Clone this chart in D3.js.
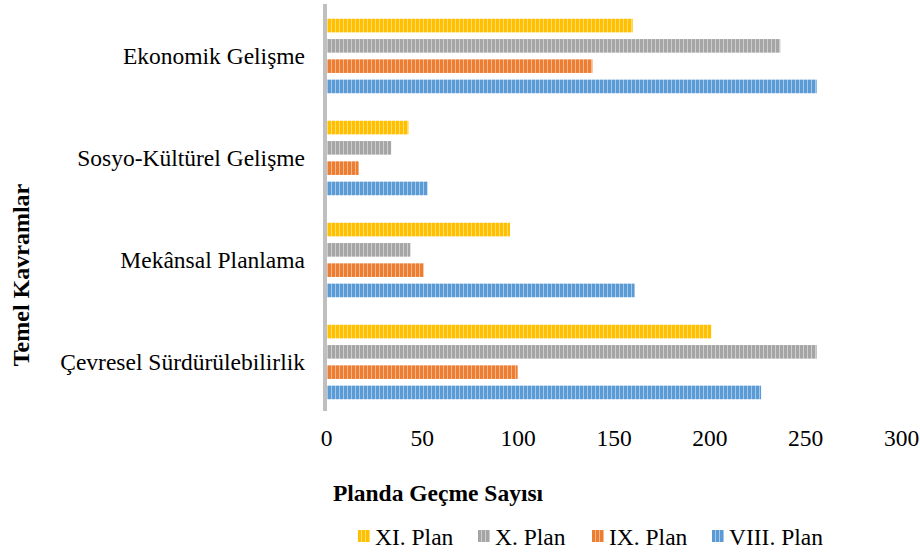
<!DOCTYPE html>
<html>
<head>
<meta charset="utf-8">
<script src="https://cdn.jsdelivr.net/npm/d3@7"></script>
<style>
  body { margin: 0; background: #fff; }
  text { font-family: "Liberation Serif", "Times New Roman", serif; fill: #000; }
</style>
</head>
<body>
<div class="canvas"></div>
<script>
// data
const categories = ['Ekonomik Gelişme', 'Sosyo-Kültürel Gelişme', 'Mekânsal Planlama', 'Çevresel Sürdürülebilirlik'];
const seriesNames = ['XI. Plan', 'X. Plan', 'IX. Plan', 'VIII. Plan'];
const xiPlan = [160, 43, 96, 201];
const xPlan = [237, 34, 44, 256];
const ixPlan = [139, 17, 51, 100];
const viiiPlan = [256, 53, 161, 227];
const xTicks = [0, 50, 100, 150, 200, 250, 300];

const seriesValues = [xiPlan, xPlan, ixPlan, viiiPlan];
const colors = ['#FFC000', '#A5A5A5', '#ED7D31', '#5B9BD5'];

const width = 920, height = 552;
const fontSize = '23.5px';
const svg = d3.select('.canvas')
    .append('svg')
    .attr('width', width)
    .attr('height', height);

// striped fills, like the original bars
const defs = svg.append('defs');
colors.forEach((c, i) => {
    const p = defs.append('pattern')
        .attr('id', 'stripe' + i)
        .attr('patternUnits', 'userSpaceOnUse')
        .attr('width', 4)
        .attr('height', 4);
    p.append('rect').attr('width', 4).attr('height', 4).attr('fill', c);
    p.append('rect').attr('x', 3).attr('width', 1).attr('height', 4)
        .attr('fill', '#fff').attr('opacity', 0.45);
});

const x = d3.scaleLinear()
    .domain([0, 300])
    .range([326, 901]);

const y = d3.scaleBand()
    .domain(categories)
    .range([5, 413])
    .paddingInner(0.27)
    .paddingOuter(0.135);

const ySub = d3.scaleBand()
    .domain(seriesNames)
    .range([0, y.bandwidth()])
    .paddingInner(0.33);

// bars
const rows = [];
categories.forEach((cat, ci) => {
    seriesNames.forEach((s, si) => {
        rows.push({cat, s, si, v: seriesValues[si][ci]});
    });
});

svg.append('g').selectAll('rect')
    .data(rows)
    .enter()
    .append('rect')
    .attr('x', x(0) + 1)
    .attr('y', d => y(d.cat) + ySub(d.s))
    .attr('width', d => x(d.v) - x(0) - 1)
    .attr('height', ySub.bandwidth())
    .attr('fill', d => `url(#stripe${d.si})`);

// y axis (grey line + category labels)
const yAxisGroup = svg.append('g')
    .attr('transform', `translate(${x(0) - 1},0)`)
    .call(d3.axisLeft(y).tickSize(0).tickPadding(20));
yAxisGroup.select('.domain')
    .attr('stroke', '#bfbfbf')
    .attr('stroke-width', 4)
    .attr('d', `M0,4V411`);
yAxisGroup.selectAll('text')
    .style('font-size', fontSize)
    .style('font-family', '"Liberation Serif", serif');

// x axis, labels only
const xAxisGroup = svg.append('g')
    .attr('transform', 'translate(0,419)')
    .call(d3.axisBottom(x).tickValues(xTicks).tickSize(0).tickPadding(10));
xAxisGroup.select('.domain').remove();
xAxisGroup.selectAll('text')
    .style('font-size', fontSize)
    .style('font-family', '"Liberation Serif", serif');

// axis titles
svg.append('text')
    .attr('x', 438)
    .attr('y', 501)
    .attr('text-anchor', 'middle')
    .style('font-size', fontSize)
    .style('font-weight', 'bold')
    .text('Planda Geçme Sayısı');

svg.append('text')
    .attr('transform', 'translate(29,275) rotate(-90)')
    .attr('text-anchor', 'middle')
    .style('font-size', '24px')
    .style('font-weight', 'bold')
    .text('Temel Kavramlar');

// legend
const legendX = [358, 478, 592, 712];
const legend = svg.append('g').selectAll('g')
    .data(seriesNames)
    .enter()
    .append('g')
    .attr('transform', (d, i) => `translate(${legendX[i]},530)`);
legend.append('rect')
    .attr('width', 12)
    .attr('height', 12)
    .attr('fill', (d, i) => `url(#stripe${i})`);
legend.append('text')
    .attr('x', 17)
    .attr('y', 15)
    .style('font-size', fontSize)
    .text(d => d);
</script>
</body>
</html>
